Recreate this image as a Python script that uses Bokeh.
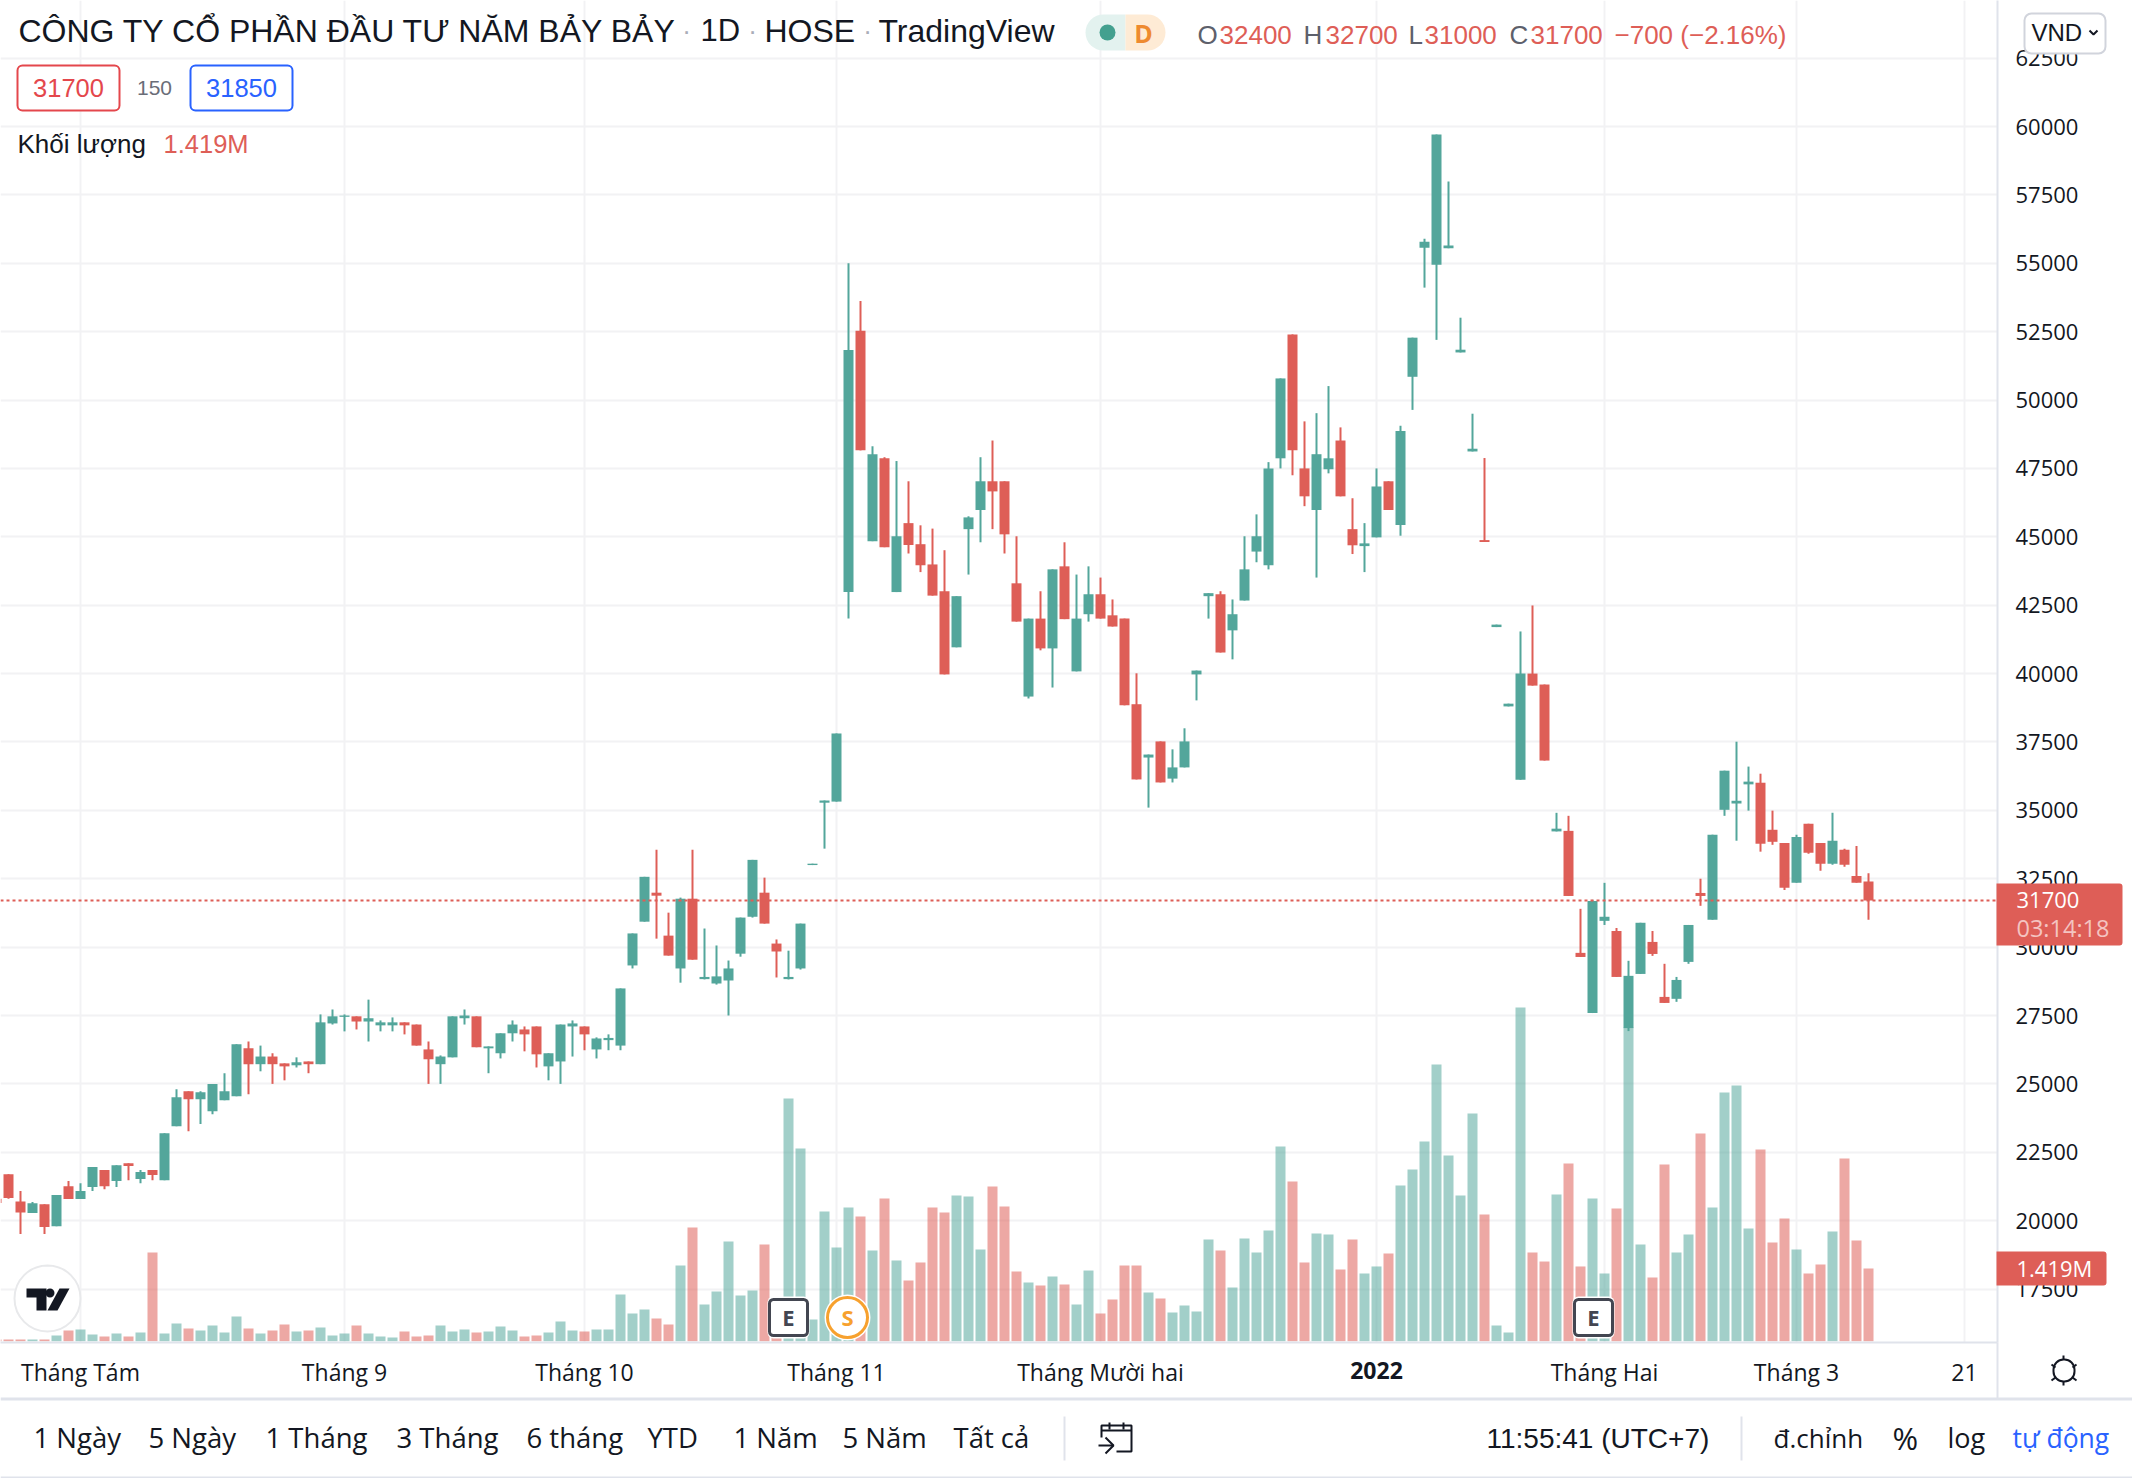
from bokeh.plotting import figure
from bokeh.embed import file_html
from bokeh.resources import INLINE
from bokeh.models import (Range1d, LinearAxis, FixedTicker, Grid, Label, BoxAnnotation, PolyAnnotation, Span, ColumnDataSource)

# ---- data (prices in VND, volume in thousands of shares), first bar is partly off-screen
open_ = [20800, 21700, 20700, 20280, 20600, 19800, 21260, 20790, 21230, 21850,
         21450, 22100, 21520, 21850, 21480, 23450, 24730, 24440, 24000, 24400,
         24550, 26300, 25720, 26000, 25750, 25680, 25820, 25720, 27210, 27450,
         27470, 27280, 27140, 27140, 27250, 27170, 26260, 25720, 25970, 27400,
         27470, 26300, 26120, 26850, 26990, 27100, 25640, 25820, 27100, 27100,
         26260, 26600, 26400, 29330, 30930, 31990, 30420, 29220, 31770, 28830,
         28670, 28780, 29760, 31110, 31990, 30130, 28830, 29220, 33000, 35280,
         35320, 42980, 52530, 44840, 47870, 42980, 45500, 44730, 43990, 43010,
         40960, 45280, 45980, 47030, 47030, 43300, 39160, 42010, 40920, 43920,
         40080, 42170, 42900, 42130, 42010, 38880, 36930, 37520, 36160, 36570,
         39970, 42830, 42900, 41580, 42670, 44460, 43960, 47870, 52400, 47500,
         45980, 47470, 48520, 45280, 44660, 44980, 47030, 45430, 50850, 55570,
         54950, 55550, 51740, 48120, 44880, 41700, 38800, 36120, 40000, 39600,
         34230, 34250, 29790, 27590, 30960, 30590, 27040, 29020, 30190, 28180,
         28110, 29460, 31980, 31000, 35020, 35250, 35950, 36010, 34290, 33810,
         32350, 34510, 33810, 33050, 33560, 32600, 32400]
high = [20800, 21700, 21080, 20680, 20600, 20940, 21450, 21370, 21960, 21850,
        22030, 22100, 21850, 21850, 23200, 24800, 24730, 24730, 25000, 25390,
        26450, 26550, 26400, 26120, 25750, 25970, 25820, 27540, 27720, 27540,
        27470, 28080, 27320, 27430, 27250, 27170, 26550, 26040, 27470, 27720,
        27470, 26370, 26850, 27320, 27100, 27100, 26120, 27170, 27320, 27100,
        26700, 26810, 28490, 30500, 32570, 33560, 31260, 31810, 33560, 30680,
        30060, 29510, 31080, 33190, 32540, 30280, 29870, 30860, 33050, 35360,
        37810, 55000, 53620, 48310, 47910, 47770, 47030, 45420, 45300, 44510,
        42830, 45750, 47910, 48520, 47030, 45020, 42010, 43010, 43810, 44800,
        43620, 43920, 43510, 42710, 42010, 40010, 37040, 37520, 37230, 38000,
        40110, 42940, 43010, 42710, 45020, 45820, 47730, 50790, 52400, 49220,
        49520, 50510, 49000, 46410, 45500, 47500, 47030, 49060, 52280, 55900,
        59710, 57990, 53010, 49500, 47880, 41790, 38900, 41540, 42490, 39600,
        34910, 34800, 31400, 31730, 32350, 30700, 29500, 30890, 30590, 29390,
        28910, 30810, 32500, 34110, 36450, 37510, 36600, 36340, 34990, 33810,
        34110, 34510, 33810, 34910, 33600, 33700, 32700]
low = [20650, 20800, 19510, 20280, 19510, 19800, 20790, 20790, 21080, 21150,
       21230, 21480, 21370, 21480, 21480, 23450, 23270, 23530, 23890, 24400,
       24550, 24620, 25460, 25000, 25130, 25600, 25390, 25720, 27170, 26920,
       26990, 26550, 26920, 26920, 26810, 26400, 25000, 25000, 25970, 27170,
       26340, 25390, 25930, 26550, 26190, 25600, 25130, 25000, 26000, 26230,
       25930, 26230, 26230, 29220, 30930, 30310, 29690, 28700, 29540, 28820,
       28630, 27500, 29650, 31080, 30860, 28890, 28820, 29180, 33000, 33600,
       35320, 42010, 48160, 44840, 44620, 42980, 44390, 43710, 42850, 39970,
       40960, 43620, 44800, 45280, 44390, 41900, 39090, 40850, 39490, 41990,
       40080, 41900, 42010, 41720, 38840, 36130, 35100, 36020, 36020, 36570,
       39020, 42010, 40770, 40520, 42670, 44070, 43810, 47500, 47250, 46120,
       43510, 47320, 46480, 44370, 43710, 44980, 45980, 45040, 49640, 54110,
       52200, 55550, 51740, 48120, 44810, 41700, 38800, 36120, 39560, 36820,
       34230, 31870, 29640, 27590, 30810, 28910, 26930, 29020, 29680, 27960,
       28000, 29390, 31510, 31000, 34800, 33890, 34990, 33490, 33740, 32090,
       32350, 33410, 32790, 33010, 32940, 32350, 31000]
close = [20650, 20830, 20300, 20640, 19770, 20940, 20790, 21080, 21960, 21260,
         22030, 22000, 21780, 21670, 23200, 24510, 24440, 24690, 25000, 24730,
         26450, 25720, 26000, 25720, 25640, 25790, 25720, 27250, 27470, 27500,
         27280, 27400, 27250, 27250, 27140, 26400, 25900, 26000, 27470, 27500,
         26340, 26370, 26850, 27170, 26810, 26080, 26120, 27170, 27210, 26810,
         26660, 26680, 28490, 30500, 32570, 31880, 29690, 31770, 29540, 28910,
         28930, 29220, 31080, 33190, 30860, 29840, 28910, 30860, 33050, 35360,
         37810, 51830, 48160, 48020, 44620, 45020, 44700, 43960, 42850, 39970,
         42830, 45710, 47030, 46660, 45090, 41900, 42010, 40920, 43810, 41990,
         42010, 42900, 42010, 41720, 38840, 36130, 37040, 36020, 36570, 37520,
         40110, 42940, 40770, 42170, 43810, 45020, 47500, 50790, 48160, 46480,
         48020, 47870, 46480, 44690, 44760, 46840, 45980, 48870, 52280, 55790,
         59710, 55650, 51840, 48220, 44810, 41790, 38900, 40000, 39560, 36820,
         34330, 31870, 29640, 31690, 31110, 28910, 28950, 30890, 29750, 27960,
         28800, 30810, 31870, 34110, 36450, 35350, 36050, 33780, 33850, 32170,
         34030, 33450, 33050, 33890, 33010, 32350, 31700]
volume = [33, 33, 33, 33, 33, 111, 208, 228, 130, 91, 150, 91, 169, 1731, 150, 345,
          247, 208, 306, 169, 482, 247, 150, 208, 325, 189, 208, 267, 111, 150,
          306, 150, 91, 72, 189, 91, 111, 306, 189, 228, 169, 189, 286, 208, 91,
          111, 169, 384, 208, 189, 228, 228, 911, 540, 618, 442, 325, 1477, 2219,
          716, 970, 1946, 891, 989, 1887, 65, 4737, 3761, 423, 2531, 1828, 2609,
          2434, 1770, 2785, 1575, 1184, 1536, 2609, 2512, 2844, 2824, 1789, 3019,
          2629, 1360, 1145, 1087, 1262, 1106, 716, 1379, 540, 813, 1477, 1477,
          950, 833, 560, 696, 579, 1985, 1770, 1048, 2004, 1731, 2160, 3800, 3117,
          1536, 2102, 2082, 1399, 1985, 1321, 1458, 1711, 3039, 3351, 3898, 5401,
          3624, 2844, 4444, 2473, 306, 169, 6513, 1731, 1555, 2863, 3468, 1458,
          2785, 1321, 2590, 6123, 1887, 1243, 3449, 1731, 2082, 4054, 2609, 4854,
          4991, 2199, 3742, 1926, 2395, 1789, 1321, 1497, 2141, 3566, 1965, 1419]
month_ticks = {6: "Tháng Tám", 28: "Tháng 9", 48: "Tháng 10", 69: "Tháng 11",
               91: "Tháng Mười hai", 114: " ", 133: "Tháng Hai", 149: "Tháng 3", 163: "21"}
year_label = "2022"
price_ticks = list(range(17500, 65000, 2500))
last_close = 31700

n = len(open_)
assert len(high) == n and len(low) == n and len(close) == n and len(volume) == n
idx = list(range(-1, n - 1))
TEAL, RED = "#53A69B", "#DE5E57"
colors = [TEAL if c >= o else RED for o, c in zip(open_, close)]
src = ColumnDataSource(dict(x=idx, o=open_, h=high, l=low, c=close, v=volume, color=colors))

W, H = 2132, 1478
FR, FB = 1997, 1342  # plot frame size in px
PX_PER = 0.027354   # px per VND
p = figure(width=W, height=H, output_backend="svg", toolbar_location=None,
           x_range=Range1d(-8 / 12, (FR - 8) / 12),
           y_range=Range1d(60000 - (FB - 126) / PX_PER, 60000 + 126 / PX_PER),
           min_border_left=0, min_border_right=W - FR, min_border_top=0, min_border_bottom=H - FB,
           x_axis_type=None, y_axis_type=None, background_fill_color="white", border_fill_color="white",
           outline_line_color=None)
p.styles = {"position": "absolute", "left": "0px", "top": "0px"}
p.extra_y_ranges = {"vol": Range1d(-(FB - 1340.67) * 19.52, 1340.67 * 19.52)}

AXC = "#E0E3EB"
FONT_AX = "Open Sans"
FONT = "Liberation Sans"
TXT = "#131722"
xaxis = LinearAxis(ticker=FixedTicker(ticks=list(month_ticks)), major_label_overrides=month_ticks,
                   major_tick_line_color=None, minor_tick_line_color=None, axis_line_color=AXC, axis_line_width=2,
                   major_label_text_font=FONT_AX, major_label_text_font_size="23px", major_label_text_color=TXT,
                   major_label_standoff=7)
p.add_layout(xaxis, "below")
yaxis = LinearAxis(ticker=FixedTicker(ticks=price_ticks), major_tick_line_color=None, minor_tick_line_color=None,
                   axis_line_color=AXC, axis_line_width=2, major_label_text_font=FONT_AX,
                   major_label_text_font_size="22px", major_label_text_color=TXT, major_label_standoff=12,
                   major_label_overrides={t: str(t) for t in price_ticks})
p.add_layout(yaxis, "right")
for dim, ticks in ((0, list(month_ticks)), (1, price_ticks)):
    p.add_layout(Grid(dimension=dim, ticker=FixedTicker(ticks=ticks), grid_line_color="#F2F2F4", grid_line_width=2))

p.vbar(x="x", top="v", bottom=0, width=10 / 12, source=src, y_range_name="vol",
       fill_color="color", fill_alpha=0.54, line_color=None)
p.segment(x0="x", x1="x", y0="l", y1="h", line_color="color", line_width=2, source=src)
p.vbar(x="x", top="o", bottom="c", width=10 / 12, source=src, fill_color="color", line_color=None)
p.add_layout(Span(location=last_close, dimension="width", line_color=RED, line_width=2, line_dash="3 3"))

# transparent full-canvas overlay for header, tags and toolbar
q = figure(width=W, height=H, output_backend="svg", toolbar_location=None,
           x_range=Range1d(0, W), y_range=Range1d(H, 0), min_border=0,
           x_axis_type=None, y_axis_type=None, background_fill_alpha=0, border_fill_alpha=0,
           outline_line_color=None)
q.styles = {"position": "absolute", "left": "0px", "top": "0px"}


def label(text, x, y, size, color=TXT, font=FONT, align="left", style="normal"):
    q.add_layout(Label(x=x, y=H - y, x_units="screen", y_units="screen", text=text, text_font=font,
                       text_font_size=f"{size}px", text_color=color, text_align=align,
                       text_baseline="middle", text_font_style=style))


def box(x1, y1, x2, y2, fill=None, line=None, lw=1, r=0):
    q.add_layout(BoxAnnotation(left=x1, right=x2, top=H - y1, bottom=H - y2, left_units="screen",
                               right_units="screen", top_units="screen", bottom_units="screen",
                               fill_color=fill, fill_alpha=1 if fill else 0, line_color=line,
                               line_alpha=1 if line else 0, line_width=lw, border_radius=r))


def poly(pts, fill=None, line=None, lw=2):
    q.add_layout(PolyAnnotation(xs=[a for a, b in pts], ys=[H - b for a, b in pts], xs_units="screen",
                                ys_units="screen", fill_color=fill, fill_alpha=1 if fill else 0,
                                line_color=line, line_alpha=1 if line else 0, line_width=lw))


# bold year label on the time axis
label(year_label, 1376, 1370, 23, TXT, FONT_AX, "center", "bold")

# header
label("CÔNG TY CỔ PHẦN ĐẦU TƯ NĂM BẢY BẢY", 18, 30, 32)
for xx in (686, 752, 867):
    label("·", xx, 30, 26, "#A9ADB8", align="center")
label("1D", 700, 30, 31)
label("HOSE", 764, 30, 32)
label("TradingView", 878, 30, 32)
box(1085, 14, 1125, 50, fill="#E3F2EF", r=(18, 0, 0, 18))
box(1125, 14, 1165, 50, fill="#FEEBD5", r=(0, 18, 18, 0))
box(1099, 24, 1115, 40, fill="#43A08F", r=8)
label("D", 1143, 32, 25, "#EE8A2F", align="center", font="Open Sans", style="bold")
for t, x, c in [("O", 1197, "#5D606B"), ("32400", 1219, RED), ("H", 1303, "#5D606B"), ("32700", 1325, RED),
                ("L", 1408, "#5D606B"), ("31000", 1424, RED), ("C", 1509, "#5D606B"), ("31700", 1530, RED),
                ("−700 (−2.16%)", 1614, RED)]:
    label(t, x, 34, 26, c)
box(2024, 13, 2105, 53, fill="white", line="#D1D4DC", lw=2, r=7)
label("VND", 2031, 32, 24)
poly([(2089, 30), (2093, 34), (2097, 30), (2093, 34)], line=TXT, lw=2)

box(17, 65, 119, 110, fill="white", line="#E4474C", lw=2, r=5)
label("31700", 68, 87, 25.5, "#E4474C", align="center")
label("150", 154, 87, 21, "#6A6D78", align="center")
box(190, 65, 292, 110, fill="white", line="#2962FF", lw=2, r=5)
label("31850", 241, 87, 25.5, "#2962FF", align="center")
label("Khối lượng", 17, 143, 26)
label("1.419M", 163, 143, 25.5, RED)

# right-hand price tags
box(1996, 883, 2122, 945, fill=RED, r=(0, 3, 3, 0))
label("31700", 2016, 899, 22, "white", FONT_AX)
label("03:14:18", 2016, 927, 23.5, "#F4C4C1", FONT_AX)
box(1996, 1251, 2106, 1285, fill=RED, r=(0, 3, 3, 0))
label("1.419M", 2016, 1267, 22, "white", FONT_AX)

# logo
box(14, 1265, 80, 1331, fill="white", line="#E8E9EB", lw=2, r=33)
poly([(26, 1288), (46, 1288), (46, 1310), (36, 1310), (36, 1297), (26, 1297)], fill="#131722")
box(45, 1288, 54, 1297, fill="#131722", r=5)
poly([(59, 1288), (69, 1288), (57, 1310), (47, 1310)], fill="#131722")

# event badges
for x0 in (769, 1574):
    box(x0 - 2, 1296, x0 + 40, 1338, fill="white", r=6)
    box(x0, 1299, x0 + 38, 1335, fill="white", line="#434651", lw=3, r=4)
    label("E", x0 + 19, 1316, 22, "#434651", FONT_AX, "center", "bold")
box(824, 1294, 870, 1340, fill="white", r=23)
box(827, 1297, 867, 1337, fill="white", line="#F7A12E", lw=3, r=20)
label("S", 847, 1316, 22, "#F7A12E", FONT_AX, "center", "bold")

# lines around the axes and toolbar
box(1996, 1342, 1998, 1399, fill=AXC)
box(0, 1397, W, 1400, fill=AXC)
box(0, 1476, W, 1478, fill=AXC)
box(1063, 1416, 1065, 1460, fill=AXC)
box(1740, 1416, 1742, 1460, fill=AXC)
for t, x in [("1 Ngày", 33), ("5 Ngày", 148), ("1 Tháng", 265), ("3 Tháng", 396), ("6 tháng", 526),
             ("YTD", 647), ("1 Năm", 733), ("5 Năm", 842), ("Tất cả", 953)]:
    label(t, x, 1437, 27.5, TXT, FONT_AX)
label("11:55:41 (UTC+7)", 1486, 1438, 28)
label("đ.chỉnh", 1773, 1437, 26, TXT, FONT_AX)
label("%", 1892, 1437, 31, TXT, FONT_AX)
label("log", 1947, 1437, 27, TXT, FONT_AX)
label("tự động", 2012, 1437, 26.5, "#2962FF", FONT_AX)

# calendar icon
poly([(1101, 1437), (1101, 1425), (1131, 1425), (1131, 1451), (1116, 1451), (1131, 1451), (1131, 1425), (1101, 1425)], line=TXT, lw=2)
poly([(1101, 1430), (1131, 1430)], line=TXT, lw=2)
poly([(1109, 1422), (1109, 1429)], line=TXT, lw=2)
poly([(1123, 1422), (1123, 1429)], line=TXT, lw=2)
poly([(1098, 1445), (1113, 1445)], line=TXT, lw=2)
poly([(1105, 1437), (1113, 1445), (1105, 1453), (1113, 1445)], line=TXT, lw=2)

# sun icon
box(2053, 1359, 2074, 1381, fill="white", line=TXT, lw=2, r=10)
poly([(2063, 1355), (2063, 1359)], line=TXT, lw=2)
poly([(2063, 1381), (2063, 1385)], line=TXT, lw=2)
poly([(2051, 1364), (2055, 1367)], line=TXT, lw=2)
poly([(2076, 1364), (2072, 1367)], line=TXT, lw=2)
poly([(2051, 1380), (2055, 1377)], line=TXT, lw=2)
poly([(2076, 1380), (2072, 1377)], line=TXT, lw=2)

open("out.html", "w").write(file_html([p, q], INLINE))
